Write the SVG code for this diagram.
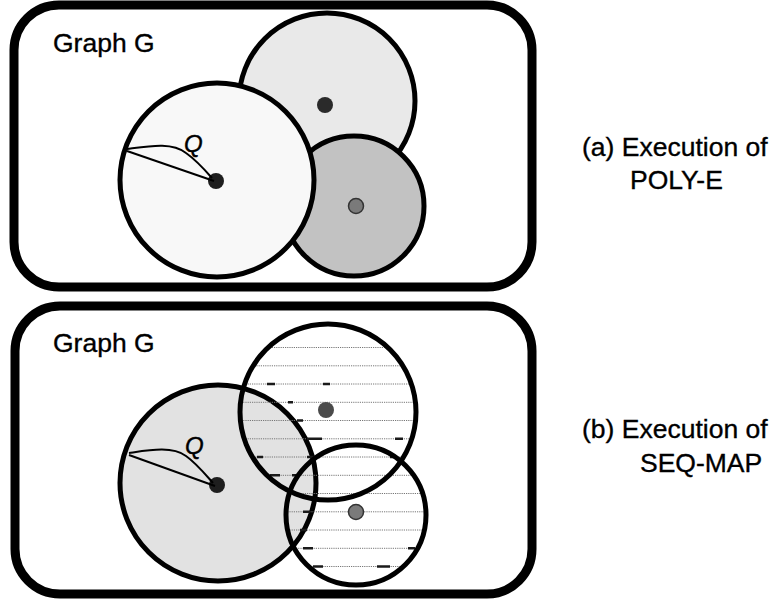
<svg xmlns="http://www.w3.org/2000/svg" width="774" height="603" viewBox="0 0 774 603">
  <style>
    .panel { fill: #ffffff; stroke: #000000; stroke-width: 9; }
    .disk { stroke: #000000; stroke-width: 5; }
    .label { font-family: "Liberation Sans", Arial, sans-serif; font-size: 26.5px; fill: #000000; stroke: #000000; stroke-width: 0.35; }
    .q { font-family: "Liberation Sans", Arial, sans-serif; font-size: 24px; font-style: italic; fill: #000000; stroke: #000000; stroke-width: 0.4; }
    .reach { fill: none; stroke: #000000; stroke-width: 2; }
    .hatch { stroke: #777777; stroke-width: 1; stroke-dasharray: 1.2 1; }
    .blot { stroke: #1a1a1a; stroke-width: 2.5; }
  </style>
  <defs>
    <!-- union of the two mapped regions in panel (b) -->
    <clipPath id="mapped">
      <circle cx="328" cy="412" r="88"/>
      <circle cx="356" cy="515" r="70"/>
    </clipPath>
  </defs>

  <rect width="774" height="603" fill="#ffffff"/>

  <!-- (a) POLY-E -->
  <g id="panel-a">
    <rect class="panel" x="14" y="5" width="518" height="282" rx="45"/>
    <text class="label" x="53" y="52">Graph G</text>
  </g>
  <g id="a-region-top">
    <circle class="disk" cx="327" cy="101" r="88" fill="#e9e9e9"/>
    <circle cx="325" cy="105" r="8" fill="#2a2a2a"/>
  </g>
  <g id="a-region-right">
    <circle class="disk" cx="354" cy="206" r="70" fill="#c2c2c2"/>
    <circle cx="356" cy="206" r="7.5" fill="#7a7a7a" stroke="#333" stroke-width="1.5"/>
  </g>
  <g id="a-region-query">
    <circle class="disk" cx="217" cy="180" r="97" fill="#f8f8f8"/>
    <circle cx="216" cy="181" r="8" fill="#1e1e1e"/>
    <text class="q" x="184" y="152">Q</text>
  </g>

  <!-- (b) SEQ-MAP -->
  <g id="panel-b">
    <rect class="panel" x="15" y="306" width="517" height="288" rx="45"/>
    <text class="label" x="53" y="352">Graph G</text>
  </g>
  <g id="b-region-query">
    <circle class="disk" cx="218" cy="483" r="98" fill="#e2e2e2"/>
    <circle cx="217" cy="485" r="8" fill="#1e1e1e"/>
    <text class="q" x="185" y="454">Q</text>
  </g>
  <g id="b-hatching" clip-path="url(#mapped)">
    <line class="hatch" x1="230" y1="347.5" x2="430" y2="347.5"/>
    <line class="hatch" x1="230" y1="365.8" x2="430" y2="365.8"/>
    <line class="hatch" x1="230" y1="384" x2="430" y2="384"/>
    <line class="hatch" x1="230" y1="402.3" x2="430" y2="402.3"/>
    <line class="hatch" x1="230" y1="420.5" x2="430" y2="420.5"/>
    <line class="hatch" x1="230" y1="438.8" x2="430" y2="438.8"/>
    <line class="hatch" x1="230" y1="457" x2="430" y2="457"/>
    <line class="hatch" x1="230" y1="475.3" x2="430" y2="475.3"/>
    <line class="hatch" x1="230" y1="493.5" x2="430" y2="493.5"/>
    <line class="hatch" x1="230" y1="511.8" x2="430" y2="511.8"/>
    <line class="hatch" x1="230" y1="530" x2="430" y2="530"/>
    <line class="hatch" x1="230" y1="548.3" x2="430" y2="548.3"/>
    <line class="hatch" x1="230" y1="566.5" x2="430" y2="566.5"/>
    <line class="hatch" x1="230" y1="584.8" x2="430" y2="584.8"/>
    <line class="blot" x1="267" y1="384" x2="275" y2="384"/>
    <line class="blot" x1="323" y1="384" x2="330" y2="384"/>
    <line class="blot" x1="288" y1="402.3" x2="293" y2="402.3"/>
    <line class="blot" x1="297" y1="420.5" x2="303" y2="420.5"/>
    <line class="blot" x1="307" y1="438.8" x2="322" y2="438.8"/>
    <line class="blot" x1="395" y1="438.8" x2="403" y2="438.8"/>
    <line class="blot" x1="257" y1="457" x2="263" y2="457"/>
    <line class="blot" x1="307" y1="457" x2="320" y2="457"/>
    <line class="blot" x1="390" y1="457" x2="397" y2="457"/>
    <line class="blot" x1="270" y1="475.3" x2="280" y2="475.3"/>
    <line class="blot" x1="292" y1="475.3" x2="300" y2="475.3"/>
    <line class="blot" x1="303" y1="511.8" x2="310" y2="511.8"/>
    <line class="blot" x1="300" y1="530" x2="307" y2="530"/>
    <line class="blot" x1="303" y1="548.3" x2="313" y2="548.3"/>
    <line class="blot" x1="408" y1="548.3" x2="415" y2="548.3"/>
    <line class="blot" x1="313" y1="566.5" x2="323" y2="566.5"/>
    <line class="blot" x1="377" y1="566.5" x2="390" y2="566.5"/>
  </g>
  <g id="b-region-top">
    <circle class="disk" cx="328" cy="412" r="88" fill="none"/>
    <circle cx="326" cy="410" r="8" fill="#4a4a4a"/>
  </g>
  <g id="b-region-right">
    <circle class="disk" cx="356" cy="515" r="70" fill="none"/>
    <circle cx="356" cy="512" r="7.5" fill="#7a7a7a" stroke="#333" stroke-width="1.5"/>
  </g>

  <!-- query reach curves -->
  <g id="connectors">
    <path class="reach" d="M127 149 C150 146 172 142 186 153 C196 160 205 170 212 178"/>
    <path class="reach" d="M127 151 L214 181"/>
    <path class="reach" d="M129 453 C150 450 172 446 186 456 C196 463 205 474 213 483"/>
    <path class="reach" d="M129 455 L215 486"/>
  </g>

  <g id="captions">
    <text class="label" x="582" y="156">(a) Execution of</text>
    <text class="label" x="630" y="189">POLY-E</text>
    <text class="label" x="582" y="438">(b) Execution of</text>
    <text class="label" x="640" y="472">SEQ-MAP</text>
  </g>
</svg>
